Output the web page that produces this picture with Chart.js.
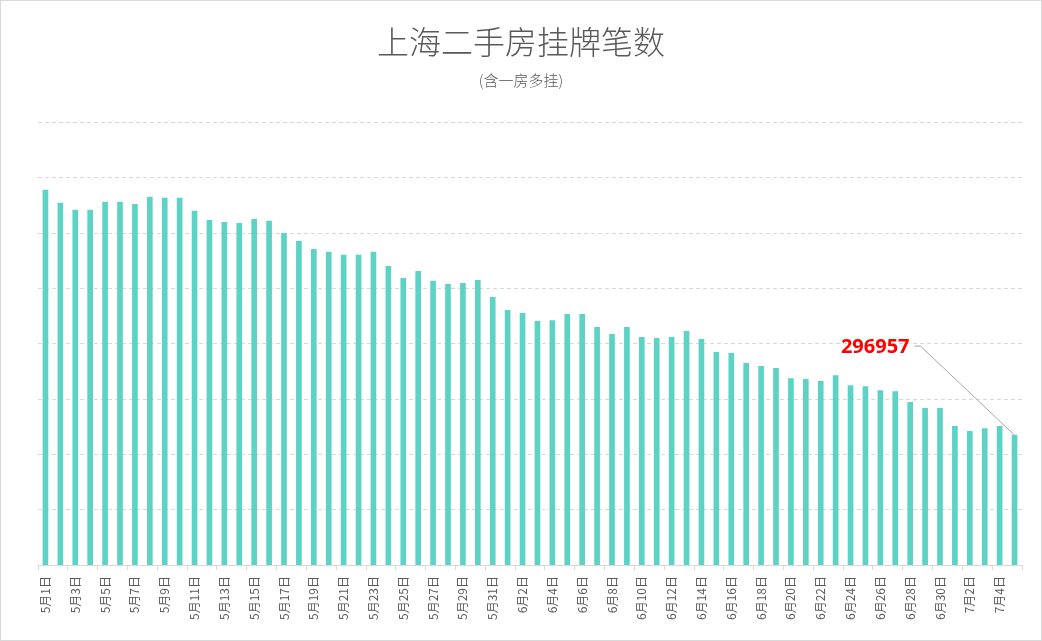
<!DOCTYPE html>
<html>
<head>
<meta charset="utf-8">
<title>上海二手房挂牌笔数</title>
<script src="https://cdn.jsdelivr.net/npm/chart.js@4/dist/chart.umd.min.js"></script>
<style>
  html, body { margin: 0; padding: 0; background: #fff; }
  #wrap { width: 1042px; height: 641px; position: relative; }
</style>
</head>
<body>
<div id="wrap"><canvas id="listingChart"></canvas></div>
<script>
var days = [
  '5月1日', '5月2日', '5月3日', '5月4日', '5月5日', '5月6日', '5月7日', '5月8日', '5月9日', '5月10日',
  '5月11日', '5月12日', '5月13日', '5月14日', '5月15日', '5月16日', '5月17日', '5月18日', '5月19日', '5月20日',
  '5月21日', '5月22日', '5月23日', '5月24日', '5月25日', '5月26日', '5月27日', '5月28日', '5月29日', '5月30日',
  '5月31日', '6月1日', '6月2日', '6月3日', '6月4日', '6月5日', '6月6日', '6月7日', '6月8日', '6月9日',
  '6月10日', '6月11日', '6月12日', '6月13日', '6月14日', '6月15日', '6月16日', '6月17日', '6月18日', '6月19日',
  '6月20日', '6月21日', '6月22日', '6月23日', '6月24日', '6月25日', '6月26日', '6月27日', '6月28日', '6月29日',
  '6月30日', '7月1日', '7月2日', '7月3日', '7月4日', '7月5日'
];

var listings = [
  385500, 380800, 378300, 378300, 381200, 381200, 380400, 383000, 382600, 382600,
  377900, 374600, 373900, 373500, 375000, 374300, 369900, 367000, 364100, 363100,
  362000, 362000, 363100, 358000, 353600, 356200, 352600, 351500, 351800, 352900,
  346800, 342100, 341000, 338100, 338400, 340600, 340600, 335900, 333400, 335900,
  332300, 331900, 332300, 334500, 331600, 326900, 326500, 322900, 321800, 321100,
  317400, 317100, 316400, 318500, 314900, 314500, 313100, 312700, 308800, 306600,
  306600, 300100, 298300, 299300, 300100, 296957
];

var yMin = 250000;
var yMax = 410000;
var yStep = 20000;

var cjkFont = '"Noto Sans CJK SC", "Microsoft YaHei", sans-serif';
var textGrey = '#595959';
var lineGrey = '#d9d9d9';


// red value callout on the last bar, with a grey leader line
var calloutPlugin = {
  id: 'callout',
  afterDatasetsDraw: function(chart) {
    var meta = chart.getDatasetMeta(0);
    var bar = meta.data[meta.data.length - 1];
    if (!bar) return;
    var ctx = chart.ctx;
    var elbowX = bar.x - 94;
    var elbowY = bar.y - 89;

    ctx.save();
    ctx.strokeStyle = '#a6a6a6';
    ctx.lineWidth = 1;
    ctx.beginPath();
    ctx.moveTo(bar.x, bar.y);
    ctx.lineTo(elbowX, elbowY);
    ctx.lineTo(elbowX - 6, elbowY);
    ctx.stroke();

    ctx.font = 'bold 20px "Noto Sans", sans-serif';
    ctx.fillStyle = '#ff0000';
    ctx.textAlign = 'right';
    ctx.textBaseline = 'middle';
    ctx.fillText(String(listings[listings.length - 1]), elbowX - 11, elbowY + 1);
    ctx.restore();
  }
};

var framePlugin = {
  id: 'frame',
  afterDraw: function(chart) {
    var ctx = chart.ctx;
    ctx.save();
    ctx.strokeStyle = lineGrey;
    ctx.lineWidth = 1;
    ctx.strokeRect(0.5, 0.5, chart.width - 1, chart.height - 1);
    ctx.restore();
  }
};


function buildListingChart() {
  var ctx = document.getElementById('listingChart');
  if (!ctx) return;

  new Chart(ctx, {
    type: 'bar',
    data: {
      labels: days,
      datasets: [{
        label: '挂牌笔数',
        data: listings,
        backgroundColor: '#5dd3c6',
        barThickness: 5
      }]
    },
    options: {
      responsive: true,
      maintainAspectRatio: false,
      animation: false,
      layout: { padding: { left: 20, right: 20, top: 0, bottom: 15 } },
      plugins: {
        legend: { display: false },
        tooltip: { enabled: false },
        title: {
          display: true,
          text: '上海二手房挂牌笔数',
          color: textGrey,
          font: { family: cjkFont, size: 32, weight: 300 },
          padding: { top: 23, bottom: 10 }
        },
        subtitle: {
          display: true,
          text: '(含一房多挂)',
          color: textGrey,
          font: { family: cjkFont, size: 15, weight: 300 },
          padding: { top: 0, bottom: 33 }
        }
      },
      scales: {
        x: {
          offset: true,
          grid: {
            offset: true,
            drawOnChartArea: false,
            drawTicks: true,
            tickLength: 5,
            color: function(c) {
              return (c.index === undefined || c.index % 2 === 0) ? lineGrey : 'rgba(0,0,0,0)';
            }
          },
          border: { display: true, color: lineGrey },
          ticks: {
            autoSkip: false,
            minRotation: 90,
            maxRotation: 90,
            padding: 6,
            color: textGrey,
            font: { family: cjkFont, size: 12 },
            callback: function(value, index) {
              return index % 2 === 0 ? this.getLabelForValue(value) : '';
            }
          }
        },
        y: {
          min: yMin,
          max: yMax,
          afterFit: function(scale) { scale.width = 18; },
          ticks: { display: false, stepSize: yStep },
          grid: { color: lineGrey, drawTicks: false },
          border: { display: false, dash: [4, 3] }
        }
      }
    },
    plugins: [calloutPlugin, framePlugin]
  });
}

buildListingChart();
</script>
</body>
</html>
